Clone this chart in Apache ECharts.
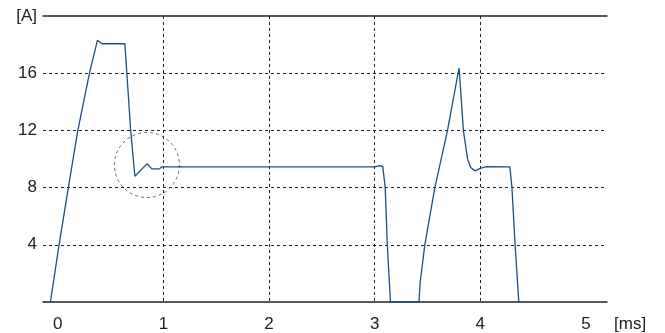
<!DOCTYPE html>
<html>
<head>
<meta charset="utf-8">
<script src="https://cdn.jsdelivr.net/npm/echarts@6/dist/echarts.min.js"></script>
<style>html,body{margin:0;padding:0;background:#fff}#c{width:665px;height:333px}</style>
</head>
<body>
<div id="c"></div>
<script>
// time in ms
var timeMs = [-0.07, 0.012, 0.10, 0.19, 0.30, 0.375, 0.42, 0.635, 0.654, 0.69, 0.73, 0.846, 0.89, 0.963, 0.986, 3.0, 3.05, 3.077, 3.10, 3.12, 3.15, 3.42, 3.43, 3.475, 3.57, 3.69, 3.79, 3.80, 3.84, 3.88, 3.91, 3.95, 4.0, 4.06, 4.28, 4.30, 4.33, 4.365];
// current in A
var currentA = [0, 4, 8, 12, 16, 18.3, 18.06, 18.06, 16, 12, 8.79, 9.68, 9.31, 9.31, 9.45, 9.45, 9.54, 9.47, 8, 4, 0, 0, 1.3, 4, 8, 12, 16, 16.35, 12, 10, 9.4, 9.17, 9.35, 9.47, 9.45, 8, 4, 0];
var xTicks = [0, 1, 2, 3, 4, 5];
var yTicks = [0, 4, 8, 12, 16, 20];
var highlight = [[0.844, 9.58]];

var seriesData = timeMs.map(function (t, i) { return [t, currentA[i]]; });

var chart = echarts.init(document.getElementById('c'));
var FONT = 'Liberation Sans';
chart.setOption({
  animation: false,
  grid: { left: 43, right: 58, top: 16, bottom: 31, containLabel: false, outerBoundsMode: 'none' },
  xAxis: [{
    type: 'value', min: -0.14, max: 5.2,
    name: '[ms]', nameLocation: 'end', nameGap: 7,
    nameTextStyle: { fontFamily: FONT, fontSize: 17, color: '#222', verticalAlign: 'top', padding: [14, 0, 0, 0] },
    axisLine: { show: true, onZero: false, lineStyle: { color: '#222', width: 1.5 } },
    axisTick: { show: false, customValues: xTicks },
    axisLabel: { customValues: xTicks, fontFamily: FONT, fontSize: 17, color: '#222', margin: 14 },
    splitLine: { show: true, showMinLine: false, showMaxLine: false, lineStyle: { color: '#222', type: [3, 3], width: 1 } }
  }, {
    type: 'value', min: -0.14, max: 5.2, position: 'top',
    axisLine: { show: true, onZero: false, lineStyle: { color: '#222', width: 1.5 } },
    axisTick: { show: false }, axisLabel: { show: false }, splitLine: { show: false }
  }],
  yAxis: {
    type: 'value', min: 0, max: 20, interval: 4,
    axisLine: { show: false }, axisTick: { show: false },
    axisLabel: {
      fontFamily: FONT, fontSize: 17, color: '#222', margin: 6,
      formatter: function (v) { return v === 0 ? '' : (v === 20 ? '[A]' : String(v)); }
    },
    splitLine: { show: true, showMinLine: false, showMaxLine: false, lineStyle: { color: '#222', type: [3, 3], width: 1 } }
  },
  series: [{
    type: 'line', data: seriesData, showSymbol: false, smooth: false,
    lineStyle: { color: '#1b4f80', width: 1.3 }, z: 3
  }, {
    type: 'scatter', data: highlight, symbol: 'circle', symbolSize: 65,
    itemStyle: { color: 'rgba(0,0,0,0)', borderColor: '#444', borderWidth: 1, borderType: [3, 3] },
    silent: true, z: 2
  }]
});
</script>
</body>
</html>
